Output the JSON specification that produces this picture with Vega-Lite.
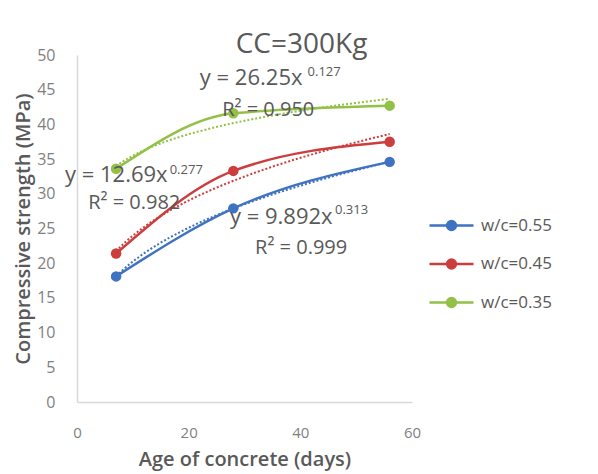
{
  "$schema": "https://vega.github.io/schema/vega-lite/v6.json",
  "width": 335,
  "height": 347,
  "autosize": {"type": "none"},
  "padding": {"left": 77, "top": 55, "right": 186, "bottom": 72},
  "background": "white",
  "config": {
    "view": {"stroke": null},
    "font": "Open Sans",
    "text": {"font": "Open Sans"}
  },
  "title": {
    "text": "CC=300Kg",
    "fontSize": 28,
    "fontWeight": "normal",
    "font": "Open Sans",
    "color": "#595959",
    "anchor": "middle",
    "dx": 57,
    "dy": 12,
    "offset": 0
  },
  "datasets": {
    "pts": [
      {"series": "w/c=0.55", "day": 7, "mpa": 18.1},
      {"series": "w/c=0.55", "day": 28, "mpa": 27.9},
      {"series": "w/c=0.55", "day": 56, "mpa": 34.6},
      {"series": "w/c=0.45", "day": 7, "mpa": 21.4},
      {"series": "w/c=0.45", "day": 28, "mpa": 33.3},
      {"series": "w/c=0.45", "day": 56, "mpa": 37.5},
      {"series": "w/c=0.35", "day": 7, "mpa": 33.6},
      {"series": "w/c=0.35", "day": 28, "mpa": 41.6},
      {"series": "w/c=0.35", "day": 56, "mpa": 42.7}
    ],
    "eqs": [
      {"label": "y = 26.25x", "day": 22.0, "mpa": 46.7},
      {"label": "y = 12.69x", "day": -2.15, "mpa": 32.7},
      {"label": "y = 9.892x", "day": 27.4, "mpa": 26.7}
    ],
    "r2": [
      {"label": "R² = 0.950", "day": 26.0, "mpa": 42.1},
      {"label": "R² = 0.982", "day": 2.0, "mpa": 28.7},
      {"label": "R² = 0.999", "day": 31.9, "mpa": 22.2}
    ],
    "sups": [
      {"label": "0.127", "day": 41.3, "mpa": 47.6},
      {"label": "0.277", "day": 16.6, "mpa": 33.5},
      {"label": "0.313", "day": 46.2, "mpa": 27.7}
    ]
  },
  "encoding": {
    "x": {
      "field": "day",
      "type": "quantitative",
      "scale": {"domain": [0, 60], "nice": false},
      "axis": {
        "values": [0, 20, 40, 60],
        "title": "Age of concrete (days)",
        "grid": false,
        "ticks": false,
        "tickSize": 0,
        "labelFlush": false,
        "domainColor": "#d9d9d9",
        "domainWidth": 1.5,
        "labelColor": "#7f7f7f",
        "labelFont": "Open Sans",
        "labelFontSize": 15,
        "labelPadding": 23,
        "titleFont": "Open Sans",
        "titleFontSize": 20,
        "titleFontWeight": 600,
        "titleColor": "#595959",
        "titlePadding": 9
      }
    },
    "y": {
      "field": "mpa",
      "type": "quantitative",
      "scale": {"domain": [0, 50], "nice": false},
      "axis": {
        "values": [0, 5, 10, 15, 20, 25, 30, 35, 40, 45, 50],
        "title": "Compressive strength (MPa)",
        "grid": false,
        "ticks": false,
        "tickSize": 0,
        "labelFlush": false,
        "domainColor": "#d9d9d9",
        "domainWidth": 1.5,
        "labelColor": "#7f7f7f",
        "labelFont": "Open Sans",
        "labelFontSize": 16,
        "labelPadding": 22,
        "titleFont": "Open Sans",
        "titleFontSize": 20,
        "titleFontWeight": 600,
        "titleColor": "#595959",
        "titlePadding": 3
      }
    }
  },
  "layer": [
    {
      "data": {"name": "pts"},
      "transform": [
        {"regression": "mpa", "on": "day", "method": "pow", "groupby": ["series"], "extent": [7, 56]}
      ],
      "mark": {"type": "line", "strokeDash": [2, 2], "strokeWidth": 2, "interpolate": "monotone"},
      "encoding": {
        "color": {"field": "series", "type": "nominal",
          "scale": {"domain": ["w/c=0.55", "w/c=0.45", "w/c=0.35"], "range": ["#3f72c0", "#cc3d3d", "#93c047"]}}
      }
    },
    {
      "data": {"name": "pts"},
      "mark": {"type": "line", "strokeWidth": 2.5, "interpolate": "monotone"},
      "encoding": {
        "color": {
          "field": "series", "type": "nominal",
          "scale": {"domain": ["w/c=0.55", "w/c=0.45", "w/c=0.35"], "range": ["#3f72c0", "#cc3d3d", "#93c047"]},
          "legend": {
            "title": null,
            "orient": "none",
            "legendX": 351,
            "legendY": 147,
            "padding": 0,
            "symbolType": "M-1,0H1M-0.2,0A0.2,0.2,0,1,1,0.2,0A0.2,0.2,0,1,1,-0.2,0Z",
            "symbolSize": 1936,
            "symbolStrokeWidth": 2.5,
            "rowPadding": 5.5,
            "labelOffset": 6,
            "labelFont": "Open Sans",
            "labelFontSize": 17,
            "labelColor": "#595959",
            "encode": {
              "symbols": {
                "update": {
                  "fill": {"scale": "color", "field": "value"},
                  "stroke": {"scale": "color", "field": "value"},
                  "opacity": {"value": 1}
                }
              }
            }
          }
        }
      }
    },
    {
      "data": {"name": "pts"},
      "mark": {"type": "circle", "size": 110, "opacity": 1},
      "encoding": {
        "color": {"field": "series", "type": "nominal",
          "scale": {"domain": ["w/c=0.55", "w/c=0.45", "w/c=0.35"], "range": ["#3f72c0", "#cc3d3d", "#93c047"]}}
      }
    },
    {
      "data": {"name": "eqs"},
      "mark": {"type": "text", "align": "left", "baseline": "middle", "fontSize": 22, "color": "#595959", "font": "Open Sans"},
      "encoding": {"text": {"field": "label"}}
    },
    {
      "data": {"name": "r2"},
      "mark": {"type": "text", "align": "left", "baseline": "middle", "fontSize": 20, "color": "#595959", "font": "Open Sans"},
      "encoding": {"text": {"field": "label"}}
    },
    {
      "data": {"name": "sups"},
      "mark": {"type": "text", "align": "left", "baseline": "middle", "fontSize": 13, "color": "#595959", "font": "Open Sans"},
      "encoding": {"text": {"field": "label"}}
    }
  ]
}
